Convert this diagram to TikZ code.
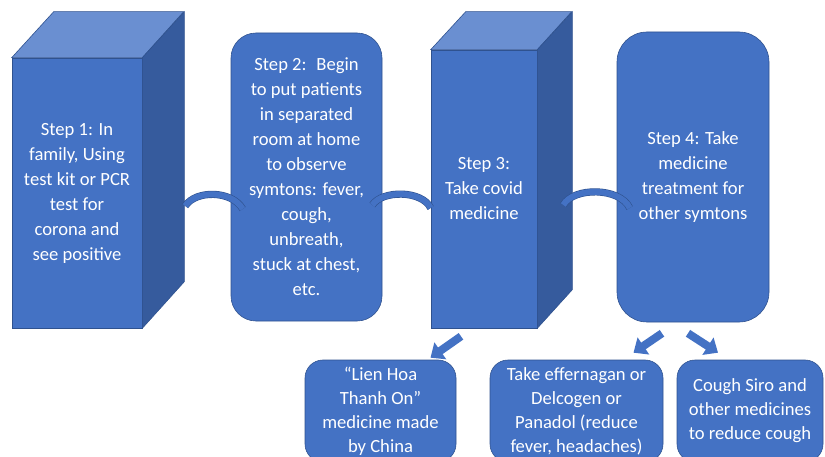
\documentclass[tikz,border=0pt]{standalone}
\usepackage{fontspec}
\setmainfont{Carlito}
\usetikzlibrary{arrows.meta}

\definecolor{stepblue}{HTML}{4472C4}
\definecolor{steptop}{HTML}{6A8FD1}
\definecolor{stepside}{HTML}{365B9D}
\definecolor{stepline}{HTML}{2F528F}

\tikzset{
  stepfront/.style={rectangle, fill=stepblue, draw=stepline, line width=0.6pt,
    text=white, align=center, inner sep=0pt, font=\fontsize{18.6}{25}\selectfont},
  steproom/.style={stepfront, rounded corners=25pt},
  medbox/.style={stepfront, rounded corners=18pt, font=\fontsize{18.6}{24}\selectfont},
  linkarc/.style={draw=stepline, double=stepblue, double distance=6pt, line width=0.6pt},
  medarrow/.style={draw=stepblue, line width=8pt, -{Triangle[length=12pt,width=20pt]}}
}

\begin{document}
\begin{tikzpicture}[x=1pt,y=1pt]
  \useasboundingbox (0,0) rectangle (825,-457);
  \clip (0,0) rectangle (825,-457);

  \node[stepfront, minimum width=130pt, minimum height=270pt] (s1) at (77,-193)
    {Step 1: In\\family, Using\\test kit or PCR\\test for\\corona and\\see positive};
  \filldraw[fill=steptop, draw=stepline, line width=0.6pt]
    (s1.north west) -- ++(42,46) -- ++(130,0) -- (s1.north east) -- cycle;
  \filldraw[fill=stepside, draw=stepline, line width=0.6pt]
    (s1.north east) -- ++(42,46) -- ++(0,-270) -- (s1.south east) -- cycle;

  \node[steproom, minimum width=151pt, minimum height=288pt] (s2) at (306.5,-177)
    {Step 2:~ Begin\\to put patients\\in separated\\room at home\\to observe\\symtons: fever,\\cough,\\unbreath,\\stuck at chest,\\etc.};

  \node[stepfront, minimum width=106pt, minimum height=278pt] (s3) at (484,-189)
    {Step 3:\\Take covid\\medicine};
  \filldraw[fill=steptop, draw=stepline, line width=0.6pt]
    (s3.north west) -- ++(35,38) -- ++(106,0) -- (s3.north east) -- cycle;
  \filldraw[fill=stepside, draw=stepline, line width=0.6pt]
    (s3.north east) -- ++(35,38) -- ++(0,-278) -- (s3.south east) -- cycle;

  \node[steproom, rounded corners=30pt, minimum width=152pt, minimum height=290pt] (s4) at (693,-177)
    {Step 4: Take\\medicine\\treatment for\\other symtons};

  \node[medbox, minimum width=151pt, minimum height=102pt] (m1) at (380.5,-411)
    {“Lien Hoa\\Thanh On”\\medicine made\\by China};
  \node[medbox, minimum width=173pt, minimum height=102pt] (m2) at (576.5,-411)
    {Take effernagan or\\Delcogen or\\Panadol (reduce\\fever, headaches)};
  \node[medbox, minimum width=146pt, minimum height=102pt] (m3) at (750,-411)
    {Cough Siro and\\other medicines\\to reduce cough};

  \draw[linkarc] ([xshift=43pt,yshift=-13pt]s1.east) .. controls +(10,16) and +(-11,19) .. ([xshift=12pt,yshift=-32pt]s2.west);
  \draw[linkarc] ([xshift=-10pt,yshift=-28pt]s2.east) .. controls +(10,15) and +(-9,18) .. ([yshift=-19pt]s3.west);
  \draw[linkarc] ([xshift=26pt,yshift=-16pt]s3.east) .. controls +(10,18) and +(-10,21) .. ([xshift=13pt,yshift=-31pt]s4.west);

  \draw[medarrow] ([xshift=-23pt,yshift=-8pt]s3.south) -- ([xshift=50pt,yshift=2pt]m1.north);
  \draw[medarrow] ([xshift=-31pt,yshift=-11pt]s4.south) -- ([xshift=57pt,yshift=7pt]m2.north);
  \draw[medarrow] ([xshift=-5pt,yshift=-11pt]s4.south) -- ([xshift=-32pt,yshift=7pt]m3.north);
\end{tikzpicture}
\end{document}
